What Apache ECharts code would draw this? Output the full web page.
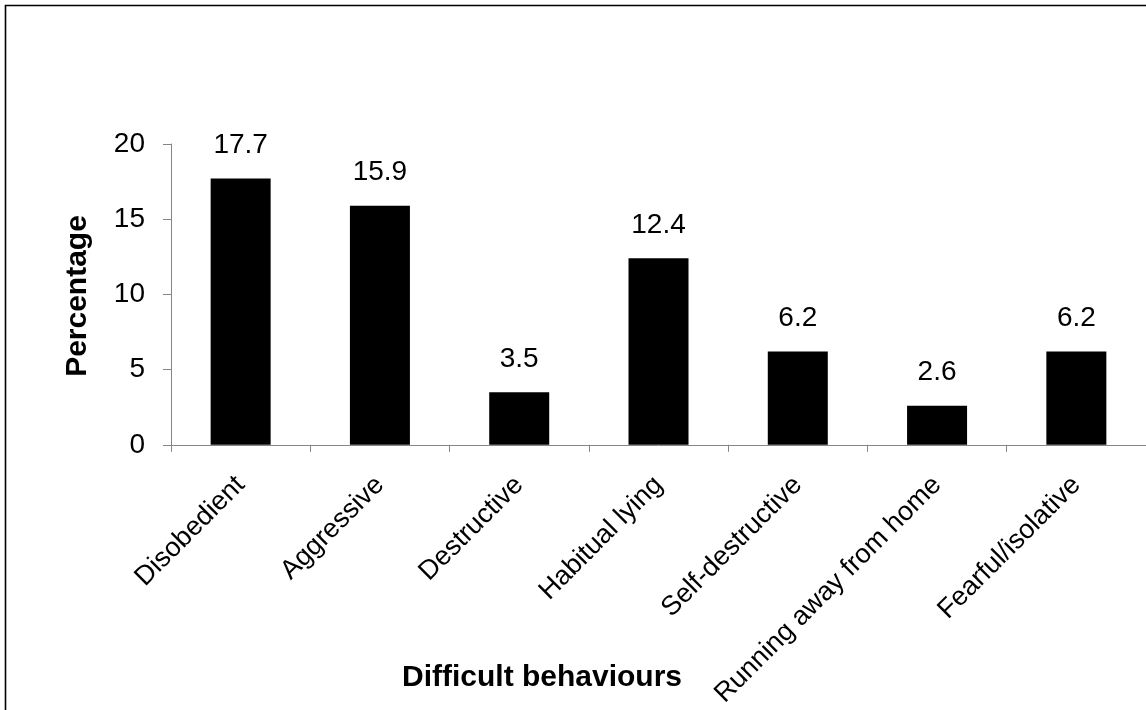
<!DOCTYPE html>
<html>
<head>
<meta charset="utf-8">
<script src="https://cdn.jsdelivr.net/npm/echarts@6/dist/echarts.min.js"></script>
<style>
  html, body { margin: 0; padding: 0; background: #fff; }
  #chart { width: 1146px; height: 710px; }
</style>
</head>
<body>
<div id="chart"></div>
<script>
// Difficult behaviours reported, in percent
const categories = ['Disobedient', 'Aggressive', 'Destructive', 'Habitual lying',
  'Self-destructive', 'Running away from home', 'Fearful/isolative'];
const percentages = [17.7, 15.9, 3.5, 12.4, 6.2, 2.6, 6.2];
const yTicks = { min: 0, max: 20, interval: 5 };
const xTitle = 'Difficult behaviours';
const yTitle = 'Percentage';

const FONT = '"Liberation Sans", Arial, sans-serif';
const AXIS_GRAY = '#868686';

const chart = echarts.init(document.getElementById('chart'), null, { renderer: 'canvas' });

chart.setOption({
  backgroundColor: '#fff',
  animation: false,
  grid: { left: 171, top: 144, width: 982, height: 304, containLabel: false },
  xAxis: {
    type: 'category',
    data: categories,
    boundaryGap: true,
    axisLine: { show: true, lineStyle: { color: AXIS_GRAY, width: 1 } },
    axisTick: { show: true, length: 7, alignWithLabel: false, lineStyle: { color: AXIS_GRAY } },
    axisLabel: {
      rotate: 45,
      interval: 0,
      margin: 36,
      color: '#000',
      fontFamily: FONT,
      fontSize: 27
    },
    splitLine: { show: false }
  },
  yAxis: {
    type: 'value',
    min: yTicks.min,
    max: yTicks.max,
    interval: yTicks.interval,
    axisLine: { show: true, lineStyle: { color: AXIS_GRAY, width: 1 } },
    axisTick: { show: true, length: 8, lineStyle: { color: AXIS_GRAY } },
    axisLabel: {
      margin: 26,
      color: '#000',
      fontFamily: FONT,
      fontSize: 28
    },
    splitLine: { show: false }
  },
  series: [{
    type: 'bar',
    data: percentages,
    barWidth: 60,
    itemStyle: { color: '#000' },
    label: {
      show: true,
      position: 'top',
      distance: 19,
      color: '#000',
      fontFamily: FONT,
      fontSize: 28,
      formatter: p => p.value.toFixed(1)
    }
  }],
  graphic: [
    {
      // frame around the figure
      type: 'rect',
      shape: { x: 5.5, y: 5.5, width: 1300, height: 900 },
      style: { fill: 'none', stroke: '#000', lineWidth: 1.6 },
      silent: true
    },
    {
      type: 'text',
      x: 542,
      y: 678,
      style: {
        text: xTitle,
        font: 'bold 30px ' + FONT,
        fill: '#000',
        align: 'center',
        verticalAlign: 'middle'
      }
    },
    {
      type: 'text',
      x: 78,
      y: 296,
      rotation: Math.PI / 2,
      style: {
        text: yTitle,
        font: 'bold 30px ' + FONT,
        fill: '#000',
        align: 'center',
        verticalAlign: 'middle'
      }
    }
  ]
});
</script>
</body>
</html>
